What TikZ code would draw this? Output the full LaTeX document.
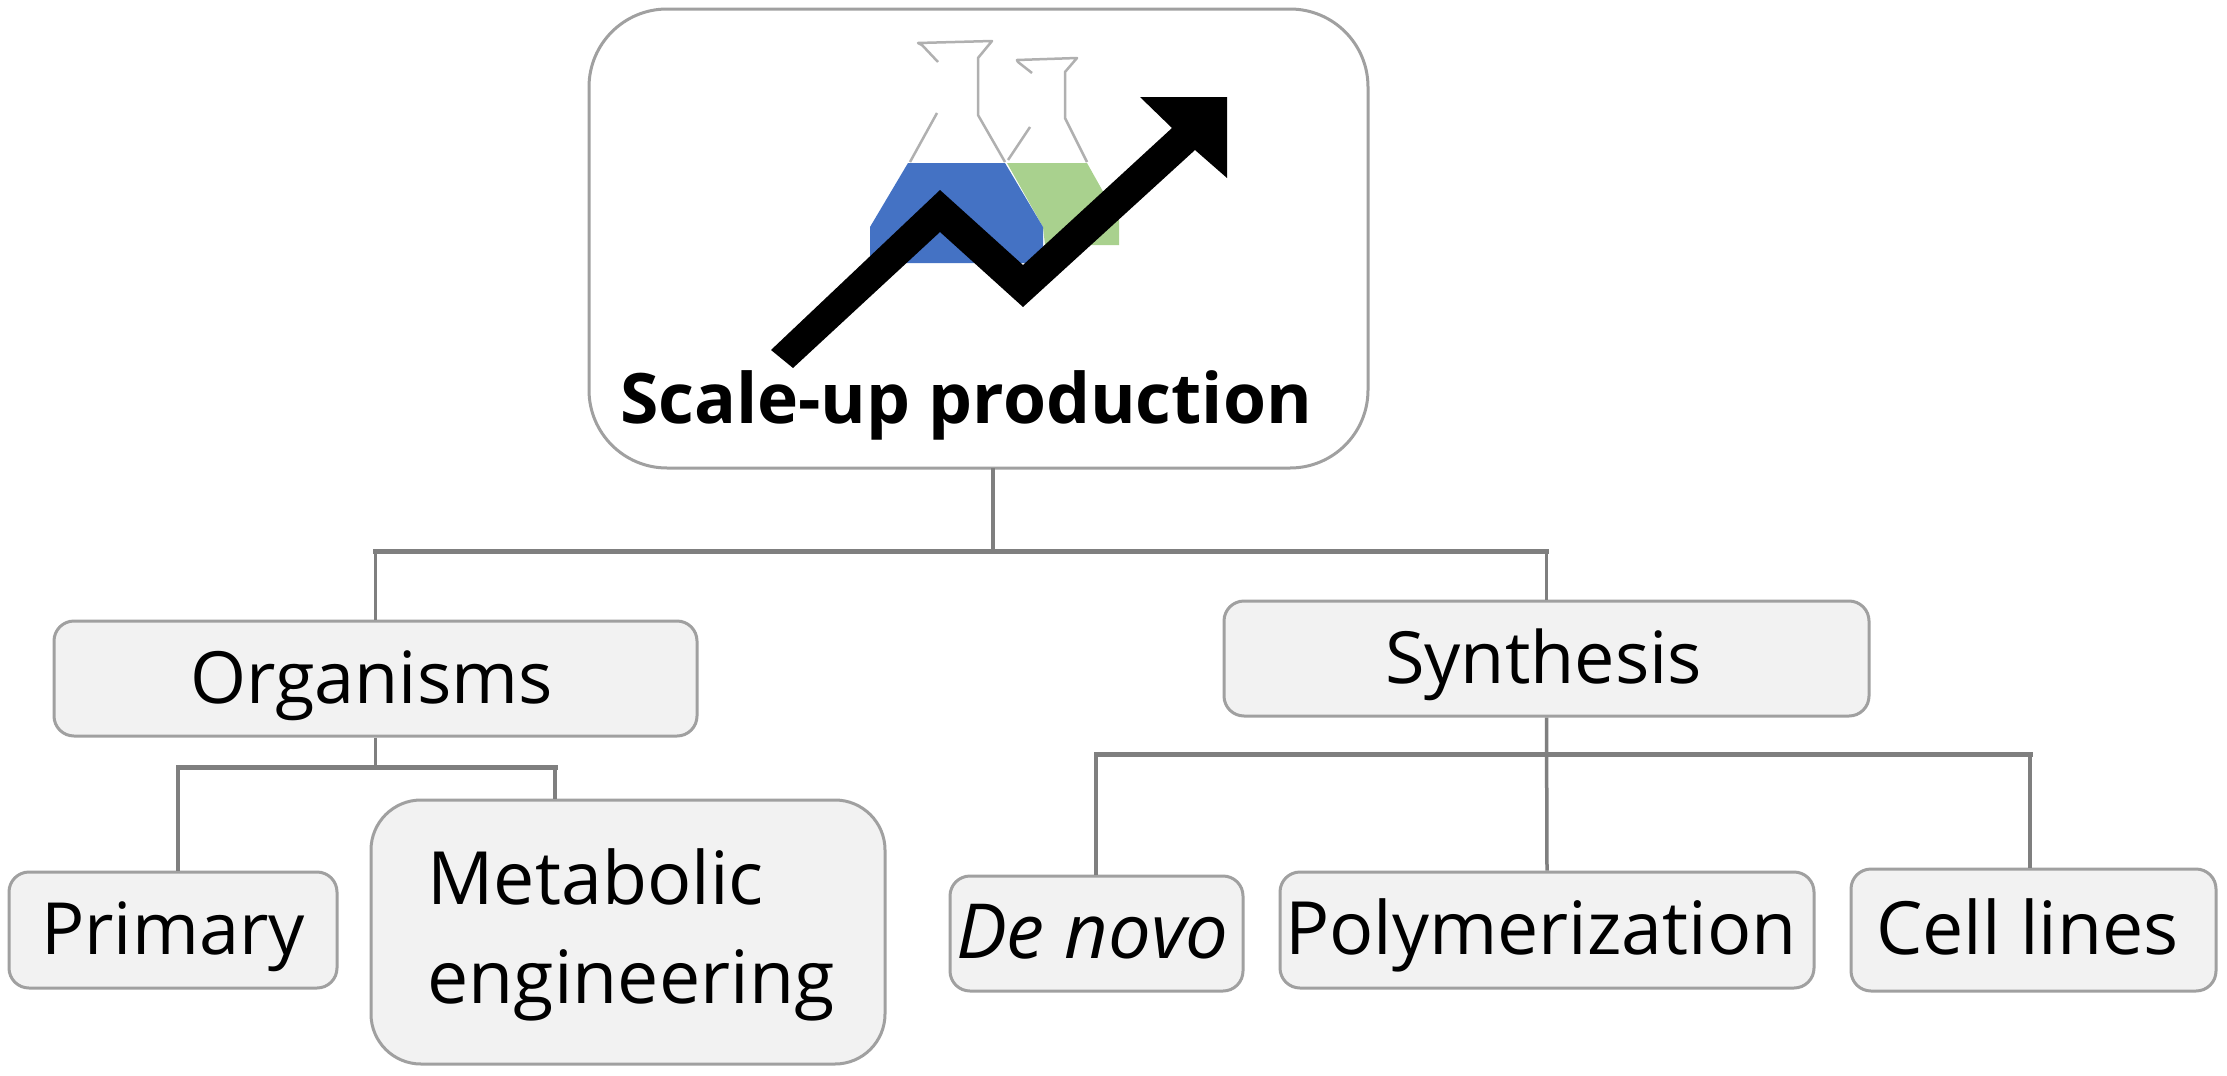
\documentclass[tikz,border=0pt]{standalone}
\usepackage{fontspec}
\setmainfont{Open Sans}
\definecolor{linegrey}{HTML}{7F7F7F}
\definecolor{edgegrey}{HTML}{A0A0A0}
\definecolor{boxfill}{HTML}{F2F2F2}
\definecolor{flaskblue}{HTML}{4472C4}
\definecolor{flaskgreen}{HTML}{A9D18E}
\definecolor{flaskline}{HTML}{B0B0B0}
\tikzset{
  box/.style={draw=edgegrey,line width=3pt,fill=boxfill,rounded corners=20pt,inner sep=0pt,
    font=\fontsize{72}{99}\selectfont,text height=60pt,text depth=11pt,align=center},
  conn/.style={draw=linegrey,line width=3.5pt},
  bus/.style={draw=linegrey,line width=5pt,line cap=rect},
  flaskoutline/.style={draw=flaskline,line width=2.5pt,line join=round},
}
\begin{document}
\begin{tikzpicture}[x=1pt,y=-1pt]
\useasboundingbox (0,0) rectangle (2227,1076);
\fill[white] (0,0) rectangle (2227,1076);
% top box
\node[draw=edgegrey,line width=3pt,fill=white,rounded corners=78pt,minimum width=779pt,minimum height=459pt,inner sep=0pt] (top) at (978.5,238.5) {};
% flasks
\fill[flaskgreen] (1007,163) -- (1087,163) -- (1119,220) -- (1119,245) -- (1045,245) -- (1043,227) -- cycle;
\fill[flaskblue] (908,163) -- (1005,163) -- (1043,227) -- (1043,263) -- (870,263) -- (870,227) -- cycle;
\draw[flaskoutline] (938,62) -- (922,45) -- (918,43) -- (992,41) -- (978,58) -- (978,115) -- (1005,162);
\draw[flaskoutline] (937,113) -- (910,162);
\draw[flaskoutline] (1032,73) -- (1018,62) -- (1017,60) -- (1077,58) -- (1065,72) -- (1065,118) -- (1087,162);
\draw[flaskoutline] (1030,127) -- (1008,160);
% rising arrow
\fill[black] (771,350) -- (793,368) -- (940,232) -- (1023,307) -- (1195,150) -- (1227,178) -- (1227,97) -- (1140,97) -- (1172,128) -- (1023,265) -- (940,190) -- cycle;
\node[font=\fontsize{69.6}{80}\selectfont\bfseries,inner sep=0pt,anchor=base] (title) at (966,423) {Scale-up production};
% boxes
\node[box,minimum width=643pt,minimum height=115pt] (org) at (375.5,678.5) {Organisms\hspace*{8pt}};
\node[box,minimum width=645pt,minimum height=115pt] (syn) at (1546.5,658.5) {Synthesis\hspace*{6pt}};
\node[box,minimum width=328pt,minimum height=116pt] (pri) at (173,930) {Primary};
\node[box,rounded corners=50pt,minimum width=514pt,minimum height=264pt,text height=,text depth=,align=left,font=\fontsize{73.5}{99}\selectfont] (met) at (628,932) {\rule{0pt}{61pt}\hspace*{6pt}Metabolic\\\hspace*{6pt}engineering};
\node[box,minimum width=293pt,minimum height=115pt,font=\fontsize{76}{99}\selectfont\itshape] (den) at (1096.5,933.5) {De novo\hspace*{8pt}};
\node[box,minimum width=534pt,minimum height=116pt,font=\fontsize{73.5}{99}\selectfont] (pol) at (1547,930) {Polymerization\hspace*{12pt}};
\node[box,minimum width=365pt,minimum height=122pt,font=\fontsize{73.5}{99}\selectfont] (cel) at (2033.5,930) {Cell lines\hspace*{12pt}};
% connector junctions
\coordinate (stem) at (993,468);
\coordinate (busa) at (993,551);
\coordinate (orgbus) at (375.5,767);
\coordinate (synbus) at (1546.5,754);
\coordinate (prix) at (178,767);
\coordinate (metx) at (555,767);
\coordinate (denx) at (1096,754);
\coordinate (celx) at (2030,754);
% connectors
\draw[conn] (stem) -- (busa);
\draw[bus] (org.north |- busa) -- (syn.north |- busa);
\draw[conn] (org.north |- busa) -- (org.north);
\draw[conn] (syn.north |- busa) -- (syn.north);
\draw[conn] (org.south) -- (orgbus);
\draw[bus] (prix) -- (metx);
\draw[conn] (prix) -- (prix |- pri.north);
\draw[conn] (metx) -- (metx |- met.north);
\draw[conn] (syn.south) -- (pol.north);
\draw[bus] (denx) -- (celx);
\draw[conn] (denx) -- (denx |- den.north);
\draw[conn] (celx) -- (celx |- cel.north);
\end{tikzpicture}
\end{document}
